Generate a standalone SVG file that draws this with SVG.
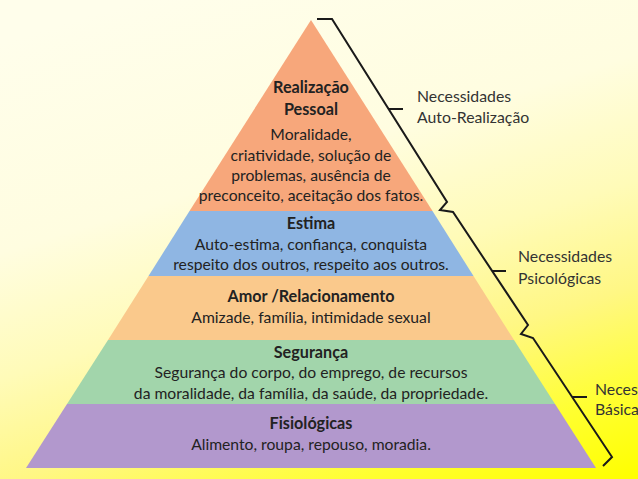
<svg xmlns="http://www.w3.org/2000/svg" width="638" height="479" viewBox="0 0 638 479">
<defs>
<linearGradient id="bg" gradientUnits="userSpaceOnUse" x1="200" y1="-20" x2="400" y2="620">
<stop offset="0" stop-color="#fffeeb"/>
<stop offset="0.3" stop-color="#fffde0"/>
<stop offset="0.48" stop-color="#fffbb8"/>
<stop offset="0.63" stop-color="#fff784"/>
<stop offset="0.78" stop-color="#ffff30"/>
<stop offset="0.9" stop-color="#ffff00"/>
</linearGradient>
<style>
.t{font-family:Lato,"Open Sans","Liberation Sans",sans-serif;font-size:15.7px;fill:#222222;text-anchor:middle}
.b{font-weight:bold;font-size:16.2px}
.l{font-family:Lato,"Open Sans","Liberation Sans",sans-serif;font-size:15.8px;fill:#333333}
.br{fill:none;stroke:#1a1a1a;stroke-width:2;stroke-linejoin:miter}
</style>
</defs>
<rect x="0" y="0" width="638" height="479" fill="url(#bg)"/>
<g id="realizacao">
<polygon points="311,20 432.5,211 189.5,211" fill="#f7a77b"/>
<text class="t b" x="311" y="93">Realização</text>
<text class="t b" x="311" y="115">Pessoal</text>
<text class="t" x="311" y="140">Moralidade,</text>
<text class="t" x="311" y="161">criatividade, solução de</text>
<text class="t" x="311" y="181">problemas, ausência de</text>
<text class="t" x="311" y="201">preconceito, aceitação dos fatos.</text>
</g>
<g id="estima">
<polygon points="189.5,211 432.5,211 473.5,276 148.5,276" fill="#8fb6e3"/>
<text class="t b" x="311" y="229">Estima</text>
<text class="t" x="311" y="250">Auto-estima, confiança, conquista</text>
<text class="t" x="311" y="270">respeito dos outros, respeito aos outros.</text>
</g>
<g id="amor">
<polygon points="148.5,276 473.5,276 514,340 108,340" fill="#fac98c"/>
<text class="t b" x="311" y="302">Amor /Relacionamento</text>
<text class="t" x="311" y="323">Amizade, família, intimidade sexual</text>
</g>
<g id="seguranca">
<polygon points="108,340 514,340 555,404 67,404" fill="#a2d5ab"/>
<text class="t b" x="311" y="358">Segurança</text>
<text class="t" x="311" y="378">Segurança do corpo, do emprego, de recursos</text>
<text class="t" x="311" y="399">da moralidade, da família, da saúde, da propriedade.</text>
</g>
<g id="fisiologicas">
<polygon points="67,404 555,404 596,468 26,468" fill="#b298cd"/>
<text class="t b" x="311" y="429">Fisiológicas</text>
<text class="t" x="311" y="450">Alimento, roupa, repouso, moradia.</text>
</g>
<g id="connectors">
<path class="br" d="M317,19 H332 L447,202 L440,210 L453,212 L528,325 L521,334 L533,338 L612,457 L603,466"/>
<path class="br" d="M389,109 H403"/>
<path class="br" d="M492,271 H506"/>
<path class="br" d="M572,397 H587"/>
</g>
<g id="labels">
<text class="l" x="417" y="102">Necessidades</text>
<text class="l" x="417" y="123">Auto-Realização</text>
<text class="l" x="518" y="262">Necessidades</text>
<text class="l" x="518" y="284">Psicológicas</text>
<text class="l" x="595" y="395">Neces</text>
<text class="l" x="595" y="415">Básica</text>
</g>
</svg>
